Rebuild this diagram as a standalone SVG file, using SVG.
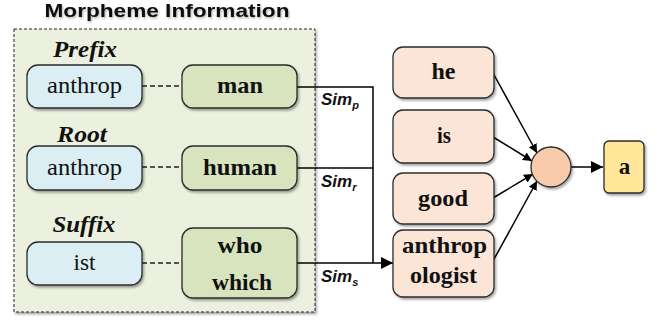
<svg xmlns="http://www.w3.org/2000/svg" width="665" height="320" viewBox="0 0 665 320">
<style>
.box{stroke:#2b2b2b;stroke-width:1.3;filter:url(#sh)}
.blue{fill:#DAEEF3}
.green{fill:#D7E4BD}
.peach{fill:#FBE5D6}
.t{font-family:"Liberation Serif","Times New Roman",serif;font-size:23px;text-anchor:middle;fill:#111}
.b{font-weight:bold}
.lab{font-family:"Liberation Serif","Times New Roman",serif;font-size:23px;font-weight:bold;font-style:italic;text-anchor:middle;fill:#111}
.sim{font-family:"Liberation Sans",Arial,sans-serif;font-size:17px;font-weight:bold;font-style:italic;fill:#111}
.sub{font-size:11px}
.line{stroke:#000;stroke-width:1.5;fill:none}
.dash{stroke:#222;stroke-width:1.3;stroke-dasharray:5,3;fill:none}
</style>
<defs>
<filter id="sh" x="-20%" y="-20%" width="140%" height="140%">
<feDropShadow dx="1.5" dy="2" stdDeviation="1.2" flood-color="#000" flood-opacity="0.35"/>
</filter>
<filter id="tsh" x="-10%" y="-30%" width="120%" height="160%">
<feDropShadow dx="1" dy="1.5" stdDeviation="1.2" flood-color="#000" flood-opacity="0.3"/>
</filter>
<marker id="arr" viewBox="0 0 10 10" refX="10" refY="5" markerWidth="9" markerHeight="9" markerUnits="userSpaceOnUse" orient="auto">
<path d="M0,0 L10,5 L0,10 z" fill="#000"/>
</marker>
<marker id="arrL" viewBox="0 0 10 10" refX="10" refY="5" markerWidth="12" markerHeight="12" markerUnits="userSpaceOnUse" orient="auto">
<path d="M0,0 L10,5 L0,10 z" fill="#000"/>
</marker>
</defs>

<g id="container">
<rect x="14" y="29" width="301" height="283" fill="#EBF1DE" stroke="#222" stroke-width="1" stroke-dasharray="3,2" filter="url(#sh)"/>
<text x="167" y="17" font-family="'Liberation Sans',Arial,sans-serif" font-size="19" font-weight="bold" text-anchor="middle" textLength="245" lengthAdjust="spacingAndGlyphs" fill="#111" filter="url(#tsh)">Morpheme Information</text>
<text class="lab" x="85" y="57" textLength="64" lengthAdjust="spacingAndGlyphs">Prefix</text>
<text class="lab" x="82" y="142" textLength="50" lengthAdjust="spacingAndGlyphs">Root</text>
<text class="lab" x="84" y="232" textLength="63" lengthAdjust="spacingAndGlyphs">Suffix</text>
</g>

<g id="connectors">
<line class="dash" x1="142" y1="86" x2="182" y2="86"/>
<line class="dash" x1="142" y1="167" x2="182" y2="167"/>
<line class="dash" x1="142" y1="263" x2="182" y2="263"/>
<polyline class="line" points="297,87 373,87 373,263"/>
<line class="line" x1="297" y1="168" x2="373" y2="168"/>
<line class="line" x1="297" y1="263" x2="393" y2="263" marker-end="url(#arrL)"/>
<line class="line" x1="493" y1="73" x2="537" y2="153" marker-end="url(#arr)"/>
<line class="line" x1="493" y1="137" x2="532" y2="161" marker-end="url(#arr)"/>
<line class="line" x1="493" y1="198" x2="533" y2="174" marker-end="url(#arr)"/>
<line class="line" x1="493" y1="261" x2="537" y2="181" marker-end="url(#arr)"/>
<line class="line" x1="571" y1="167" x2="603" y2="167" marker-end="url(#arrL)"/>
<text class="sim" x="321" y="105">Sim<tspan class="sub" dy="4">p</tspan></text>
<text class="sim" x="321" y="187">Sim<tspan class="sub" dy="4">r</tspan></text>
<text class="sim" x="321" y="282">Sim<tspan class="sub" dy="4">s</tspan></text>
</g>

<g id="prefix-anthrop">
<rect class="box blue" x="27" y="65" width="115" height="43" rx="11"/>
<text class="t" x="84.5" y="93" textLength="75" lengthAdjust="spacingAndGlyphs">anthrop</text>
</g>
<g id="prefix-man">
<rect class="box green" x="182" y="65" width="115" height="43" rx="11"/>
<text class="t b" x="240" y="93" textLength="46" lengthAdjust="spacingAndGlyphs">man</text>
</g>
<g id="root-anthrop">
<rect class="box blue" x="27" y="146" width="115" height="44" rx="11"/>
<text class="t" x="84.5" y="175" textLength="75" lengthAdjust="spacingAndGlyphs">anthrop</text>
</g>
<g id="root-human">
<rect class="box green" x="182" y="146" width="115" height="44" rx="11"/>
<text class="t b" x="240" y="175" textLength="74" lengthAdjust="spacingAndGlyphs">human</text>
</g>
<g id="suffix-ist">
<rect class="box blue" x="27" y="242" width="115" height="43" rx="11"/>
<text class="t" x="84.5" y="270" textLength="22" lengthAdjust="spacingAndGlyphs">ist</text>
</g>
<g id="suffix-whowhich">
<rect class="box green" x="182" y="228" width="115" height="70" rx="11"/>
<text class="t b" x="240" y="253" textLength="45" lengthAdjust="spacingAndGlyphs">who</text>
<text class="t b" x="242" y="290" textLength="60" lengthAdjust="spacingAndGlyphs">which</text>
</g>

<g id="word-he">
<rect class="box peach" x="393" y="47" width="101" height="51" rx="10"/>
<text class="t b" x="443.5" y="79" textLength="24" lengthAdjust="spacingAndGlyphs">he</text>
</g>
<g id="word-is">
<rect class="box peach" x="393" y="110" width="101" height="53" rx="10"/>
<text class="t b" x="444" y="143" textLength="14" lengthAdjust="spacingAndGlyphs">is</text>
</g>
<g id="word-good">
<rect class="box peach" x="393" y="173" width="101" height="51" rx="10"/>
<text class="t b" x="443" y="206" textLength="50" lengthAdjust="spacingAndGlyphs">good</text>
</g>
<g id="word-anthropologist">
<rect class="box peach" x="393" y="230" width="101" height="67" rx="10"/>
<text class="t b" x="444.5" y="253" textLength="85" lengthAdjust="spacingAndGlyphs">anthrop</text>
<text class="t b" x="443.5" y="283" textLength="67" lengthAdjust="spacingAndGlyphs">ologist</text>
</g>

<g id="combine">
<circle cx="551" cy="167" r="20" fill="#F8CBAD" stroke="#2b2b2b" stroke-width="1.3" filter="url(#sh)"/>
</g>
<g id="output-a">
<rect class="box" x="604" y="141" width="40" height="52" rx="5" fill="#FFE699"/>
<text class="t b" x="624.5" y="174">a</text>
</g>
</svg>
